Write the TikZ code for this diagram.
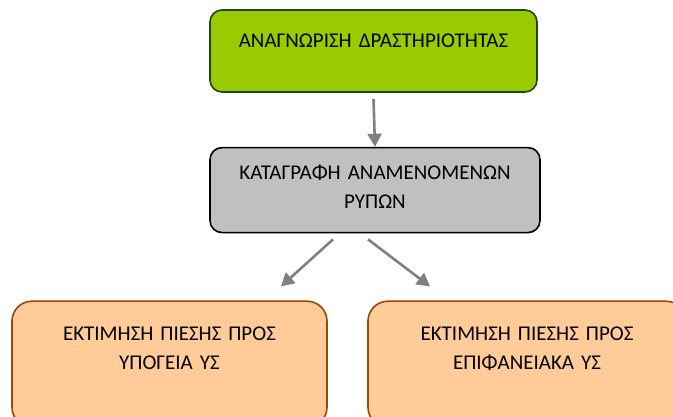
\documentclass[tikz,border=0pt]{standalone}
\usepackage{fontspec}
\setmainfont{Carlito}
\usepackage{tikz}
\usetikzlibrary{positioning, arrows.meta}
\definecolor{actgreen}{RGB}{153, 204, 0}
\definecolor{actedge}{RGB}{34, 68, 24}
\definecolor{recgray}{RGB}{192, 192, 192}
\definecolor{estorange}{RGB}{255, 204, 153}
\definecolor{estedge}{RGB}{152, 72, 6}
\definecolor{arrowgray}{RGB}{128, 128, 128}

\begin{document}
\begin{tikzpicture}[x=1pt, y=1pt, node distance=54pt,
    box/.style={draw, line width=1.6pt, align=center, inner xsep=0pt, inner ysep=0pt,
        font=\fontsize{21}{29}\selectfont},
    arr/.style={-{Triangle[length=13pt, width=14pt]}, line width=2.6pt, arrowgray}]
    \useasboundingbox (0,0) rectangle (673,417);
    % Nodes
    \node (act) at (373.5,366) [box, rounded corners=12pt, fill=actgreen, draw=actedge,
        text width=327pt, text height=38pt, text depth=44pt] {ΑΝΑΓΝΩΡΙΣΗ ΔΡΑΣΤΗΡΙΟΤΗΤΑΣ};
    \node (cat) [below=of act, xshift=1.5pt, box, rounded corners=12pt, fill=recgray, draw=black,
        text width=330pt, text height=32pt, text depth=53pt] {ΚΑΤΑΓΡΑΦΗ ΑΝΑΜΕΝΟΜΕΝΩΝ\\ΡΥΠΩΝ};
    \node (under) [below=67pt of cat, xshift=-205.5pt, box, rounded corners=20pt, fill=estorange, draw=estedge,
        text width=315pt, text height=39pt, text depth=87pt] {ΕΚΤΙΜΗΣΗ ΠΙΕΣΗΣ ΠΡΟΣ\\ΥΠΟΓΕΙΑ ΥΣ};
    \node (surf) [below=67pt of cat, xshift=152pt, box, rounded corners=20pt, fill=estorange, draw=estedge,
        text width=318pt, text height=39pt, text depth=87pt] {ΕΚΤΙΜΗΣΗ ΠΙΕΣΗΣ ΠΡΟΣ\\ΕΠΙΦΑΝΕΙΑΚΑ ΥΣ};

    % Arrows
    \draw[arr] ([yshift=-6pt]act.south) -- (cat.north);
    \draw[arr] ([xshift=-42pt, yshift=-6pt]cat.south) -- ([xshift=111.5pt, yshift=14pt]under.north);
    \draw[arr] ([xshift=-7pt, yshift=-6pt]cat.south) -- ([xshift=-97pt, yshift=14pt]surf.north);
\end{tikzpicture}
\end{document}
